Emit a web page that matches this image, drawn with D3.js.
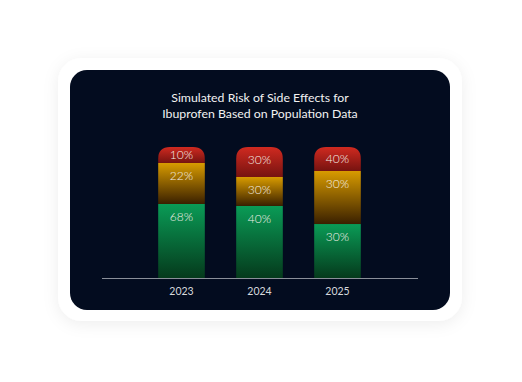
<!DOCTYPE html>
<html>
<head>
<meta charset="utf-8">
<script src="https://cdn.jsdelivr.net/npm/d3@7"></script>
<style>
  html, body { margin: 0; padding: 0; background: #ffffff; }
  svg { display: block; }
</style>
</head>
<body>
<svg id="chart" width="522" height="382"></svg>
<script>
// ---- data ----
const years = ["2023", "2024", "2025"];
const seriesNames = ["low", "moderate", "high"];           // bottom -> top
const lowLabels = ["68%", "40%", "30%"];
const moderateLabels = ["22%", "30%", "30%"];
const highLabels = ["10%", "30%", "40%"];
// drawn share of each bar (percent of bar height)
const lowDrawn = [56.5, 55, 41.2];
const moderateDrawn = [31.3, 22.1, 40.5];
const highDrawn = [12.2, 22.9, 18.3];
const titleLines = ["Simulated Risk of Side Effects for", "Ibuprofen Based on Population Data"];

// ---- build table ----
const rows = years.map((y, i) => ({
  year: y,
  low: lowDrawn[i], moderate: moderateDrawn[i], high: highDrawn[i],
  labels: { low: lowLabels[i], moderate: moderateLabels[i], high: highLabels[i] }
}));

const svg = d3.select("#chart");
const defs = svg.append("defs");

// card shadow
const f = defs.append("filter").attr("id", "shadow").attr("x", "-20%").attr("y", "-20%").attr("width", "140%").attr("height", "140%");
f.append("feDropShadow").attr("dx", 0).attr("dy", 3).attr("stdDeviation", 8).attr("flood-color", "#000").attr("flood-opacity", 0.07);

svg.append("rect").attr("x", 58).attr("y", 58).attr("width", 404).attr("height", 263)
  .attr("rx", 24).attr("fill", "#ffffff").attr("filter", "url(#shadow)");
svg.append("rect").attr("x", 70).attr("y", 70).attr("width", 380).attr("height", 240)
  .attr("rx", 17).attr("fill", "#030c1f");

// title
svg.append("text").attr("x", 260).attr("y", 102).attr("text-anchor", "middle")
  .attr("font-family", "Lato, 'Noto Sans', sans-serif").attr("font-size", 12.3).attr("fill", "#f2f2f2")
  .selectAll("tspan").data(titleLines).join("tspan")
  .attr("x", 260).attr("dy", (d, i) => i === 0 ? 0 : 16).text(d => d);

// gradients
const grads = {
  low: ["#0a9b56", "#053a1c"],
  moderate: ["#d89b00", "#3a2000"],
  high: ["#d02a20", "#761310"]
};
Object.entries(grads).forEach(([k, c]) => {
  const g = defs.append("linearGradient").attr("id", "g-" + k).attr("x1", 0).attr("y1", 0).attr("x2", 0).attr("y2", 1);
  g.append("stop").attr("offset", "0%").attr("stop-color", c[0]);
  g.append("stop").attr("offset", "100%").attr("stop-color", c[1]);
});

// scales
const x = d3.scaleBand().domain(years).range([142.5, 376.5]).paddingInner(0.4).paddingOuter(0.2);
const y = d3.scaleLinear().domain([0, 100]).range([278, 147]);

const stack = d3.stack().keys(seriesNames);
const stacked = stack(rows);

// clip each bar to rounded top
rows.forEach((r, i) => {
  const cp = defs.append("clipPath").attr("id", "clip-" + i);
  const bx = x(r.year), bw = x.bandwidth(), top = y(100), bot = y(0), rr = 12;
  cp.append("path").attr("d",
    `M${bx},${bot} L${bx},${top + rr} Q${bx},${top} ${bx + rr},${top} L${bx + bw - rr},${top} Q${bx + bw},${top} ${bx + bw},${top + rr} L${bx + bw},${bot} Z`);
});

const barsG = svg.append("g");
stacked.forEach(layer => {
  const key = layer.key;
  layer.forEach((d, i) => {
    const r = d.data;
    barsG.append("rect")
      .attr("clip-path", `url(#clip-${i})`)
      .attr("x", x(r.year)).attr("width", x.bandwidth())
      .attr("y", y(d[1])).attr("height", y(d[0]) - y(d[1]))
      .attr("fill", `url(#g-${key})`);
    const top = y(d[1]), h = y(d[0]) - y(d[1]);
    barsG.append("text")
      .attr("x", x(r.year) + x.bandwidth() / 2)
      .attr("y", top + Math.min(12.5, h / 2))
      .attr("dy", "0.35em")
      .attr("text-anchor", "middle")
      .attr("font-family", "Lato, 'Noto Sans', sans-serif").attr("font-size", 12)
      .attr("font-weight", 300)
      .attr("fill", "#f4f0e8")
      .text(r.labels[key]);
  });
});

// axis
const axis = d3.axisBottom(x).tickSize(0).tickPadding(10);
const ag = svg.append("g").attr("transform", "translate(0,278)").call(axis);
ag.select(".domain").remove();
ag.append("line").attr("x1", 102).attr("x2", 418).attr("y1", 0.5).attr("y2", 0.5)
  .attr("stroke", "#8a8f99").attr("stroke-width", 1);
ag.selectAll(".tick text").attr("font-family", "Lato, 'Noto Sans', sans-serif")
  .attr("font-size", 10.5).attr("fill", "#d6d8dc");
</script>
</body>
</html>
